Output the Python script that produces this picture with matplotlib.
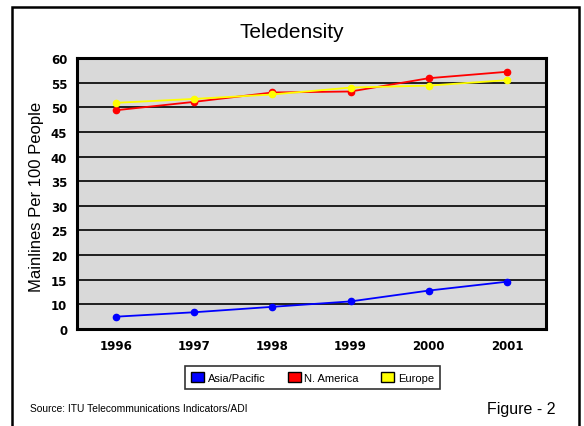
import matplotlib.pyplot as plt
import matplotlib.patches as mpatches

# data (y axis runs 5..60, bottom tick labelled "0")
years = ["1996", "1997", "1998", "1999", "2000", "2001"]
asia_pacific = [7.5, 8.4, 9.5, 10.6, 12.8, 14.6]
n_america = [49.4, 51.1, 53.0, 53.2, 55.9, 57.2]
europe = [50.9, 51.7, 52.6, 54.0, 54.4, 55.5]
ytick_vals = [5, 10, 15, 20, 25, 30, 35, 40, 45, 50, 55, 60]
ytick_labels = ["0", "10", "15", "20", "25", "30", "35", "40", "45", "50", "55", "60"]

series = [
    ("Asia/Pacific", asia_pacific, "#0000ff"),
    ("N. America", n_america, "#ff0000"),
    ("Europe", europe, "#ffff00"),
]

text_font = ["Liberation Sans", "DejaVu Sans"]

fig = plt.figure(figsize=(5.84, 4.27), dpi=100)
W, H = 584, 427

# outer frame (bottom edge runs off the picture)
fig.patches.append(mpatches.Rectangle((12 / W, -0.05), (579 - 12) / W, 1.05 - 8 / H,
                                      transform=fig.transFigure, fill=False,
                                      edgecolor="black", linewidth=1.8))

ax = fig.add_axes([77 / W, 1 - 330 / H, (546 - 77) / W, (330 - 59) / H])
ax.set_facecolor("#d9d9d9")

x = list(range(len(years)))
for name, vals, col in series:
    ax.plot(x, vals, color=col, linewidth=1.3, marker="o", markersize=4.5, zorder=3)

ax.set_xlim(-0.5, len(years) - 0.5)
ax.set_ylim(5, 60)
ax.set_yticks(ytick_vals)
ax.set_yticklabels(ytick_labels)
ax.set_xticks(x)
ax.set_xticklabels(years)
for lab in ax.get_xticklabels() + ax.get_yticklabels():
    lab.set_family("DejaVu Sans")
    lab.set_fontweight("bold")
    lab.set_fontsize(8.5)
ax.tick_params(length=0, pad=7)
ax.yaxis.grid(True, color="black", linewidth=1.2)
ax.set_axisbelow(True)
for s in ax.spines.values():
    s.set_linewidth(2.2)

fig.text(37 / W, 1 - 197 / H, "Mainlines Per 100 People", rotation=90,
         ha="center", va="center", family=text_font, fontsize=12)
fig.text(291.5 / W, 1 - 32 / H, "Teledensity", ha="center", va="center",
         family=text_font, fontsize=15)

handles = [mpatches.Patch(facecolor=col, edgecolor="black", label=name)
           for name, vals, col in series]
leg = fig.legend(handles=handles, loc="center", bbox_to_anchor=(312.5 / W, 1 - 378.5 / H),
                 ncol=3, frameon=True, fancybox=False, edgecolor="black",
                 prop={"family": text_font, "size": 8},
                 handlelength=1.2, handleheight=0.9, handletextpad=0.3,
                 columnspacing=2.0, borderpad=0.55)
leg.get_frame().set_linewidth(1.2)

fig.text(30 / W, 1 - 409 / H, "Source: ITU Telecommunications Indicators/ADI",
         ha="left", va="center", family=text_font, fontsize=7.4)
fig.text(521 / W, 1 - 410 / H, "Figure - 2", ha="center", va="center",
         family=text_font, fontsize=11.5)

fig.savefig("out.png", dpi=100)
